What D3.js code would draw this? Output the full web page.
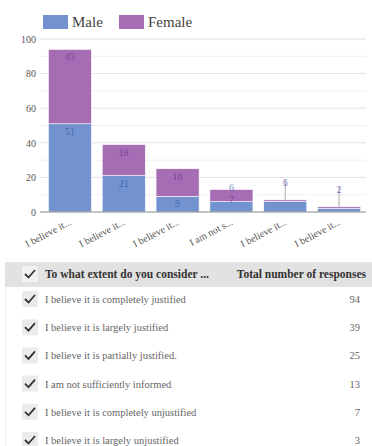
<!DOCTYPE html>
<html>
<head>
<meta charset="utf-8">
<script src="https://cdn.jsdelivr.net/npm/d3@7"></script>
<style>
  html, body { margin: 0; padding: 0; background: #fff; }
  svg { display: block; }
</style>
</head>
<body>
<script>
// Survey answers, split by gender
const categories = [
  "I believe it is completely justified",
  "I believe it is largely justified",
  "I believe it is partially justified.",
  "I am not sufficiently informed",
  "I believe it is completely unjustified",
  "I believe it is largely unjustified"
];
const shortLabels = ["I believe it...", "I believe it...", "I believe it...", "I am not s...", "I believe it...", "I believe it..."];
const male = [51, 21, 9, 6, 6, 2];
const female = [43, 18, 16, 7, 1, 1];
const totals = [94, 39, 25, 13, 7, 3];
const seriesNames = ["Male", "Female"];
const yTicks = [0, 20, 40, 60, 80, 100];
const tableHeader = ["To what extent do you consider ...", "Total number of responses"];

const W = 372, H = 446;
const colors = { Male: "#7293cf", Female: "#a66db5" };
const labelColors = { Male: "#4466aa", Female: "#7e449a" };
const serif = "'Liberation Serif', 'DejaVu Serif', serif";

const svg = d3.select("body").append("svg").attr("width", W).attr("height", H);

const x = d3.scaleBand().domain(d3.range(categories.length)).range([43, 366]).paddingInner(0.2).paddingOuter(0.1);
const y = d3.scaleLinear().domain([0, 100]).range([212, 39]);

// grid lines: major every 20, minor every 10
const grid = svg.append("g");
grid.selectAll("line.minor").data(d3.range(10, 100, 20)).join("line")
  .attr("x1", 40).attr("x2", 366).attr("y1", d => y(d)).attr("y2", d => y(d))
  .attr("stroke", "#f0f0f0").attr("stroke-width", 1);
grid.selectAll("line.major").data(yTicks.filter(d => d > 0)).join("line")
  .attr("x1", 40).attr("x2", 366).attr("y1", d => y(d)).attr("y2", d => y(d))
  .attr("stroke", "#e3e3e3").attr("stroke-width", 1);

// y axis labels
const yAxis = d3.axisLeft(y).tickValues(yTicks).tickSize(0).tickPadding(0);
const ya = svg.append("g").attr("transform", "translate(36,0)").call(yAxis);
ya.select(".domain").remove();
ya.selectAll("text").attr("font-family", serif).attr("font-size", 10).attr("fill", "#555");

// stacked bars
const rows = categories.map((c, i) => ({ i, Male: male[i], Female: female[i] }));
const stack = d3.stack().keys(seriesNames)(rows);

const bars = svg.append("g");
stack.forEach(layer => {
  bars.selectAll(null).data(layer).join("rect")
    .attr("x", (d, i) => x(i))
    .attr("width", x.bandwidth())
    .attr("y", d => y(d[1]))
    .attr("height", d => y(d[0]) - y(d[1]))
    .attr("fill", colors[layer.key])
    .attr("stroke", "#fff").attr("stroke-width", 0.6);
});

// baseline
svg.append("line").attr("x1", 40).attr("x2", 366).attr("y1", y(0)).attr("y2", y(0))
  .attr("stroke", "#8a8a8a").attr("stroke-width", 1.2);

// value labels: inside the segment when it fits, otherwise lifted above with a leader
const lab = svg.append("g").attr("font-family", serif).attr("font-size", 10).attr("text-anchor", "middle");
rows.forEach((r, i) => {
  const cx = x(i) + x.bandwidth() / 2;
  const mTop = y(r.Male), sTop = y(r.Male + r.Female);
  const fH = y(r.Male) - sTop, mH = y(0) - mTop;
  let lifted = null;
  if (mH >= 14) {
    lab.append("text").attr("x", cx).attr("y", mTop + 11).attr("fill", labelColors.Male).text(r.Male);
  } else if (fH >= 10) {
    lab.append("text").attr("x", cx).attr("y", sTop + 1).attr("fill", labelColors.Male).attr("opacity", 0.7).text(r.Male);
  } else {
    lifted = sTop - 17;
  }
  if (fH >= 10) {
    lab.append("text").attr("x", cx).attr("y", fH >= 14 ? sTop + 11 : sTop + fH / 2 + 7)
      .attr("fill", labelColors.Female).text(r.Female);
  }
  if (lifted !== null) {
    lab.append("line").attr("x1", cx).attr("x2", cx).attr("y1", sTop).attr("y2", lifted + 2)
      .attr("stroke", "#aaa").attr("stroke-width", 1);
    lab.append("text").attr("x", cx).attr("y", lifted + 3).attr("fill", labelColors.Female).attr("opacity", 0.6).text(r.Female);
    lab.append("text").attr("x", cx).attr("y", lifted + 3).attr("fill", labelColors.Male).attr("opacity", 0.6).text(r.Male);
  }
});

// x axis labels, rotated
const xAxis = d3.axisBottom(x).tickFormat(i => shortLabels[i]).tickSize(0).tickPadding(0);
const xa = svg.append("g").attr("transform", `translate(0,${y(0)})`).call(xAxis);
xa.select(".domain").remove();
xa.selectAll("text")
  .attr("font-family", serif).attr("font-size", 10).attr("fill", "#555")
  .attr("text-anchor", "end").attr("dy", 0)
  .attr("transform", "translate(2,12) rotate(-28)");

// legend
const leg = svg.append("g").attr("font-family", serif).attr("font-size", 15).attr("fill", "#444");
[[43, 72, "Male"], [119, 148, "Female"]].forEach(([bx, tx, k]) => {
  leg.append("rect").attr("x", bx).attr("y", 15).attr("width", 25).attr("height", 14).attr("fill", colors[k]);
  leg.append("text").attr("x", tx).attr("y", 27).text(k);
});

// table
const tbl = svg.append("g").attr("font-family", serif);
tbl.append("line").attr("x1", 5.5).attr("x2", 5.5).attr("y1", 286).attr("y2", H).attr("stroke", "#ececec");
tbl.append("rect").attr("x", 5).attr("y", 262).attr("width", W - 5).attr("height", 25).attr("fill", "#e2e2e2");

function check(g, cx, cy, bg) {
  if (bg) g.append("rect").attr("x", cx - 8).attr("y", cy - 8).attr("width", 16).attr("height", 16).attr("rx", 1.5).attr("fill", bg);
  g.append("path").attr("d", `M${cx - 5},${cy} L${cx - 1.5},${cy + 3.5} L${cx + 5},${cy - 4}`)
    .attr("fill", "none").attr("stroke", "#333").attr("stroke-width", 1.8);
}
check(tbl, 30, 274, "#f2f2f2");
tbl.append("text").attr("x", 45).attr("y", 278).attr("font-size", 11.5).attr("font-weight", "bold").attr("fill", "#333").text(tableHeader[0]);
tbl.append("text").attr("x", 366).attr("y", 278).attr("font-size", 11.5).attr("font-weight", "bold").attr("fill", "#333")
  .attr("text-anchor", "end").text(tableHeader[1]);

const rowY = d3.scaleLinear().domain([0, 5]).range([299, 440]);
categories.forEach((c, i) => {
  const cy = rowY(i);
  check(tbl, 30, cy, "#ebebeb");
  tbl.append("text").attr("x", 45).attr("y", cy + 4).attr("font-size", 10.5).attr("fill", "#666").text(c);
  tbl.append("text").attr("x", 360).attr("y", cy + 4).attr("font-size", 10.5).attr("fill", "#666").attr("text-anchor", "end").text(totals[i]);
});
</script>
</body>
</html>
